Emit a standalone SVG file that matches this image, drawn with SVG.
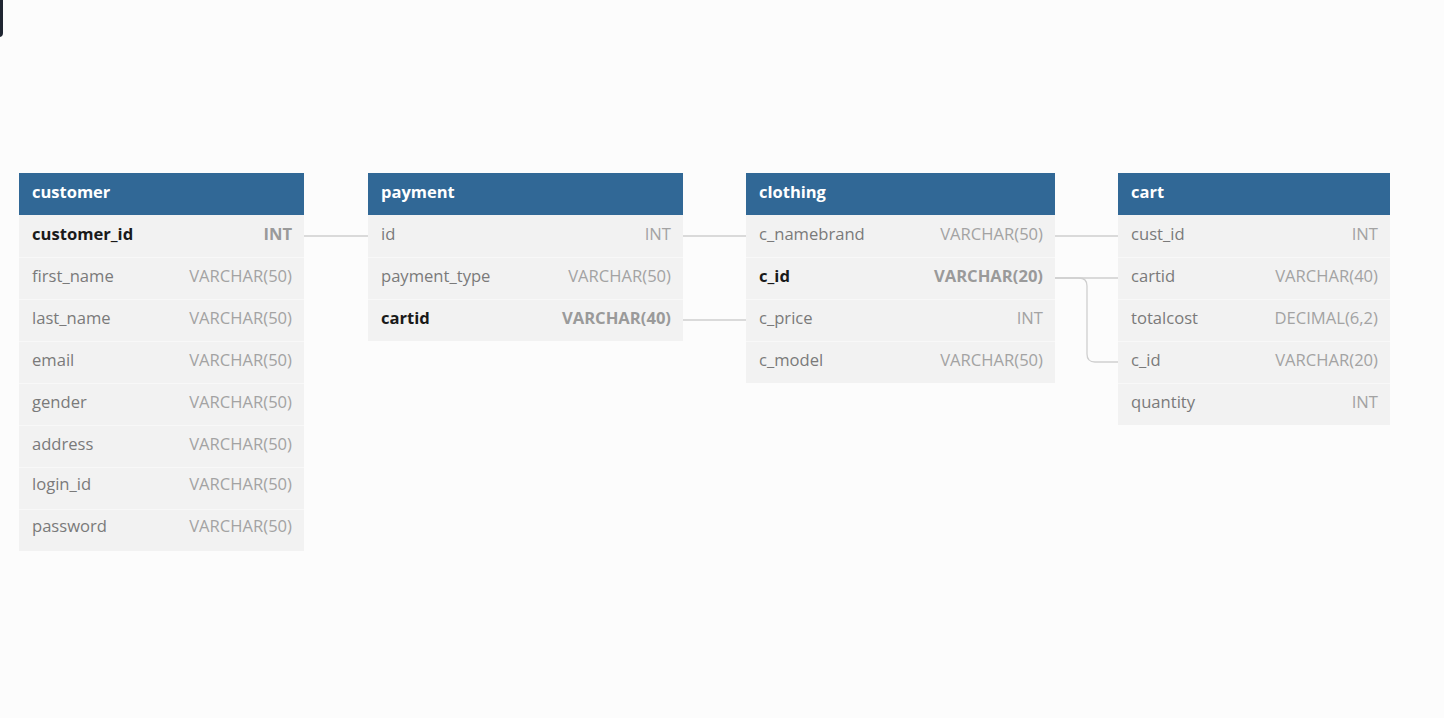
<svg xmlns="http://www.w3.org/2000/svg" width="1444" height="718" viewBox="0 0 1444 718">
<style>
.bg{fill:#fcfcfc}
.hd{fill:#316896}
.row{fill:#f2f2f2}
.sep{stroke:#f8f8f8;stroke-width:1}
.ht{font-family:"Open Sans","Liberation Sans",sans-serif;font-size:16.5px;font-weight:bold;fill:#ffffff}
.fn{font-family:"Open Sans","Liberation Sans",sans-serif;font-size:16.6px;fill:#7a7a7a}
.fk{font-family:"Open Sans","Liberation Sans",sans-serif;font-size:16.6px;font-weight:bold;fill:#1a1a1a}
.ty{font-family:"Open Sans","Liberation Sans",sans-serif;font-size:16.6px;fill:#a3a3a3;text-anchor:end}
.tk{font-family:"Open Sans","Liberation Sans",sans-serif;font-size:16.6px;font-weight:bold;fill:#9a9a9a;text-anchor:end}
.cn{fill:none;stroke:#cfcfcf;stroke-width:1.3}
</style>
<rect class="bg" x="0" y="0" width="1444" height="718"/>
<rect x="-10" y="-10" width="13" height="47" rx="4" fill="#1f2631"/>

<g id="connectors">
<path class="cn" d="M304 236H368"/>
<path class="cn" d="M683 236H746"/>
<path class="cn" d="M683 320H746"/>
<path class="cn" d="M1055 236H1118"/>
<path class="cn" d="M1055 278H1118"/>
<path class="cn" d="M1055 278H1079Q1087 278 1087 286V354Q1087 362 1095 362H1118"/>
</g>

<g id="customer">
<rect class="hd" x="19" y="173" width="285" height="42"/>
<text class="ht" x="32" y="198">customer</text>
<rect class="row" x="19" y="215" width="285" height="336"/>
<path class="sep" d="M19 257.5H304M19 299.5H304M19 341.5H304M19 383.5H304M19 425.5H304M19 467.5H304M19 509.5H304"/>
<text class="fk" x="32" y="240">customer_id</text><text class="tk" x="292" y="240">INT</text>
<text class="fn" x="32" y="282">first_name</text><text class="ty" x="292" y="282">VARCHAR(50)</text>
<text class="fn" x="32" y="324">last_name</text><text class="ty" x="292" y="324">VARCHAR(50)</text>
<text class="fn" x="32" y="366">email</text><text class="ty" x="292" y="366">VARCHAR(50)</text>
<text class="fn" x="32" y="408">gender</text><text class="ty" x="292" y="408">VARCHAR(50)</text>
<text class="fn" x="32" y="450">address</text><text class="ty" x="292" y="450">VARCHAR(50)</text>
<text class="fn" x="32" y="490">login_id</text><text class="ty" x="292" y="490">VARCHAR(50)</text>
<text class="fn" x="32" y="532">password</text><text class="ty" x="292" y="532">VARCHAR(50)</text>
</g>

<g id="payment">
<rect class="hd" x="368" y="173" width="315" height="42"/>
<text class="ht" x="381" y="198">payment</text>
<rect class="row" x="368" y="215" width="315" height="126"/>
<path class="sep" d="M368 257.5H683M368 299.5H683"/>
<text class="fn" x="381" y="240">id</text><text class="ty" x="671" y="240">INT</text>
<text class="fn" x="381" y="282">payment_type</text><text class="ty" x="671" y="282">VARCHAR(50)</text>
<text class="fk" x="381" y="324">cartid</text><text class="tk" x="671" y="324">VARCHAR(40)</text>
</g>

<g id="clothing">
<rect class="hd" x="746" y="173" width="309" height="42"/>
<text class="ht" x="759" y="198">clothing</text>
<rect class="row" x="746" y="215" width="309" height="168"/>
<path class="sep" d="M746 257.5H1055M746 299.5H1055M746 341.5H1055"/>
<text class="fn" x="759" y="240">c_namebrand</text><text class="ty" x="1043" y="240">VARCHAR(50)</text>
<text class="fk" x="759" y="282">c_id</text><text class="tk" x="1043" y="282">VARCHAR(20)</text>
<text class="fn" x="759" y="324">c_price</text><text class="ty" x="1043" y="324">INT</text>
<text class="fn" x="759" y="366">c_model</text><text class="ty" x="1043" y="366">VARCHAR(50)</text>
</g>

<g id="cart">
<rect class="hd" x="1118" y="173" width="272" height="42"/>
<text class="ht" x="1131" y="198">cart</text>
<rect class="row" x="1118" y="215" width="272" height="210"/>
<path class="sep" d="M1118 257.5H1390M1118 299.5H1390M1118 341.5H1390M1118 383.5H1390"/>
<text class="fn" x="1131" y="240">cust_id</text><text class="ty" x="1378" y="240">INT</text>
<text class="fn" x="1131" y="282">cartid</text><text class="ty" x="1378" y="282">VARCHAR(40)</text>
<text class="fn" x="1131" y="324">totalcost</text><text class="ty" x="1378" y="324">DECIMAL(6,2)</text>
<text class="fn" x="1131" y="366">c_id</text><text class="ty" x="1378" y="366">VARCHAR(20)</text>
<text class="fn" x="1131" y="408">quantity</text><text class="ty" x="1378" y="408">INT</text>
</g>
</svg>
